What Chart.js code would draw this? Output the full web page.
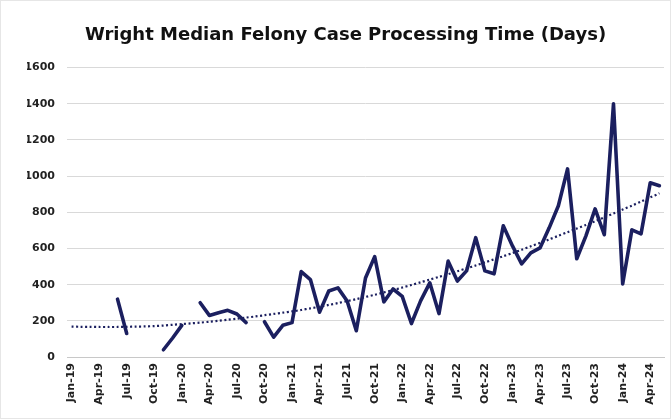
<!DOCTYPE html>
<html>
<head>
<meta charset="utf-8">
<script src="https://cdn.jsdelivr.net/npm/chart.js@4"></script>
<style>
  html, body { margin: 0; padding: 0; background: #ffffff; }
  #wrap { position: relative; width: 671px; height: 419px; box-sizing: border-box; border: 1px solid #e6e6e6; }
  canvas { display: block; }
</style>
</head>
<body>
<div id="wrap"><canvas id="chart" width="669" height="417"></canvas></div>
<script>
// ---- data ----
const months = [
  'Jan-19','Feb-19','Mar-19','Apr-19','May-19','Jun-19','Jul-19','Aug-19','Sep-19','Oct-19','Nov-19','Dec-19',
  'Jan-20','Feb-20','Mar-20','Apr-20','May-20','Jun-20','Jul-20','Aug-20','Sep-20','Oct-20','Nov-20','Dec-20',
  'Jan-21','Feb-21','Mar-21','Apr-21','May-21','Jun-21','Jul-21','Aug-21','Sep-21','Oct-21','Nov-21','Dec-21',
  'Jan-22','Feb-22','Mar-22','Apr-22','May-22','Jun-22','Jul-22','Aug-22','Sep-22','Oct-22','Nov-22','Dec-22',
  'Jan-23','Feb-23','Mar-23','Apr-23','May-23','Jun-23','Jul-23','Aug-23','Sep-23','Oct-23','Nov-23','Dec-23',
  'Jan-24','Feb-24','Mar-24','Apr-24','May-24'
];

// median days per month (null = no data that month)
const medianDays = [
  null, null, null, null, null, 320, 130, null, null, null, 40, 105,
  175, null, 300, 230, 245, 258, 238, 190, null, 195, 110, 175,
  190, 472, 428, 248, 365, 382, 310, 145, 437, 555, 305, 376,
  335, 185, 310, 410, 240, 530, 420, 476, 660, 476, 460, 725,
  614, 515, 576, 603, 714, 836, 1040, 543, 670, 819, 676, 1400,
  404, 703, 681, 963, 947
];

// dotted trend line as drawn in the reference
const trendDays = [
  168, 167, 167, 166, 166, 166, 167, 168, 169, 171, 174, 178,
  182, 186, 190, 195, 200, 206, 212, 218, 224, 231, 238, 245,
  252, 260, 269, 278, 288, 298, 309, 320, 332, 344, 357, 370,
  384, 398, 413, 428, 443, 458, 474, 490, 506, 523, 540, 557,
  575, 593, 612, 631, 650, 670, 690, 710, 730, 751, 772, 793,
  815, 837, 859, 882, 905
];

const yTicks = [0, 200, 400, 600, 800, 1000, 1200, 1400, 1600];
const shownLabels = ['Jan-19','Apr-19','Jul-19','Oct-19','Jan-20','Apr-20','Jul-20','Oct-20','Jan-21','Apr-21','Jul-21',
  'Oct-21','Jan-22','Apr-22','Jul-22','Oct-22','Jan-23','Apr-23','Jul-23','Oct-23','Jan-24','Apr-24'];

const navy = '#1b1f5f';
const tickFont = { family: 'DejaVu Sans', weight: 'bold', size: 11 };

new Chart(document.getElementById('chart'), {
  type: 'line',
  data: {
    labels: months,
    datasets: [
      { label: 'Median days', data: medianDays, borderColor: navy, borderWidth: 3.6, tension: 0,
        pointRadius: 0, spanGaps: false, borderJoinStyle: 'round', borderCapStyle: 'round', order: 1 },
      { label: 'Trend', data: trendDays, borderColor: navy, borderWidth: 2.2, borderDash: [2, 2.5],
        tension: 0.3, pointRadius: 0, order: 2 }
    ]
  },
  options: {
    responsive: false,
    animation: false,
    layout: { padding: { left: 26, right: 6, top: 0, bottom: 8 } },
    plugins: {
      legend: { display: false },
      tooltip: { enabled: false },
      title: {
        display: true,
        text: 'Wright Median Felony Case Processing Time (Days)',
        color: '#111',
        font: { family: 'DejaVu Sans', weight: 'bold', size: 18 },
        padding: { top: 24, bottom: 21 }
      }
    },
    scales: {
      x: {
        offset: true,
        grid: { display: false, drawTicks: false },
        border: { display: true, color: '#c8c8c8', width: 1 },
        afterFit: (s) => { s.height = 53; s.paddingLeft = 0; s.paddingRight = 0; },
        ticks: {
          autoSkip: false, maxRotation: 90, minRotation: 90, padding: 6,
          color: '#222', font: tickFont,
          callback: function (v) { const l = this.getLabelForValue(v); return shownLabels.includes(l) ? l : ''; }
        }
      },
      y: {
        min: 0, max: 1600,
        afterFit: (s) => { s.width = 40; },
        afterBuildTicks: (s) => { s.ticks = yTicks.map(v => ({ value: v })); },
        grid: { color: '#d9d9d9', drawTicks: false },
        border: { display: false },
        ticks: { padding: 12, color: '#222', font: tickFont, callback: (v) => String(v) }
      }
    }
  }
});
</script>
</body>
</html>
